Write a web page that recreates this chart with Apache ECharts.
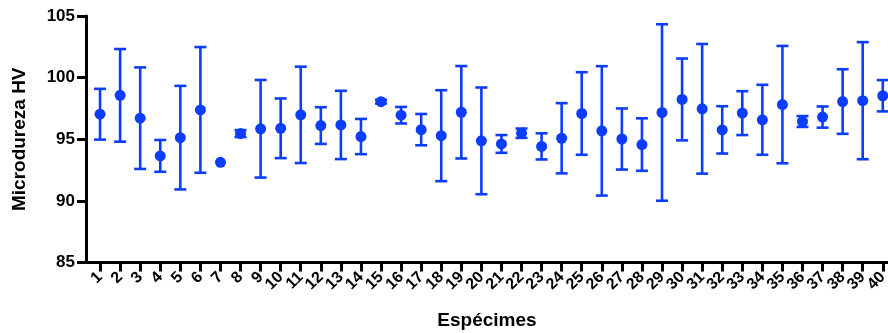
<!DOCTYPE html>
<html>
<head>
<meta charset="utf-8">
<script src="https://cdn.jsdelivr.net/npm/echarts@6/dist/echarts.min.js"></script>
<style>
  html, body { margin: 0; padding: 0; background: #fff; }
  #chart { width: 888px; height: 333px; }
</style>
</head>
<body>
<div id="chart"></div>
<script>
// Specimen numbers on the x axis
const specimens = [1,2,3,4,5,6,7,8,9,10,11,12,13,14,15,16,17,18,19,20,
                   21,22,23,24,25,26,27,28,29,30,31,32,33,34,35,36,37,38,39,40];

// Mean Vickers microhardness per specimen (HV)
const meanHV = [97.03, 98.56, 96.71, 93.65, 95.13, 97.38, 93.13, 95.46, 95.85, 95.89,
                96.98, 96.11, 96.16, 95.22, 98.05, 96.95, 95.78, 95.29, 97.19, 94.87,
                94.62, 95.49, 94.42, 95.08, 97.09, 95.68, 95.02, 94.57, 97.17, 98.23,
                97.47, 95.76, 97.12, 96.58, 97.81, 96.44, 96.80, 98.06, 98.13, 98.53];

// Standard deviation per specimen (HV)
const sdHV = [2.06, 3.76, 4.12, 1.29, 4.20, 5.10, 0.00, 0.28, 3.96, 2.42,
              3.91, 1.49, 2.77, 1.43, 0.15, 0.67, 1.27, 3.69, 3.75, 4.33,
              0.72, 0.38, 1.06, 2.85, 3.35, 5.25, 2.48, 2.13, 7.16, 3.32,
              5.26, 1.92, 1.78, 2.84, 4.76, 0.44, 0.86, 2.62, 4.75, 1.27];

// Y axis ticks
const yTicks = [85, 90, 95, 100, 105];

const BLUE = '#0d3dfc';
const FONT = 'Arial, "Liberation Sans", Helvetica, sans-serif';

// x extent of the plot, in specimen units
const X_MIN = 0.3;
const X_MAX = 40.26;
const PLOT_LEFT = 86;
const PLOT_W = 888 - PLOT_LEFT;
const unit = PLOT_W / (X_MAX - X_MIN);
// band grid used only for the specimen labels: one band per specimen, centred on it
const bandLeft = PLOT_LEFT + (0.5 - X_MIN) * unit;
const bandRight = 888 - (bandLeft + specimens.length * unit);

const pointData = specimens.map((s, i) => [s, meanHV[i]]);
const barData = specimens.map((s, i) => [s, meanHV[i] - sdHV[i], meanHV[i] + sdHV[i], sdHV[i]]);

const chart = echarts.init(document.getElementById('chart'), null, { renderer: 'canvas' });

chart.setOption({
  animation: false,
  backgroundColor: '#ffffff',
  grid: [
    { left: PLOT_LEFT, right: 0, top: 16, bottom: 70.5, containLabel: false, outerBoundsMode: 'none' },
    { left: bandLeft, right: bandRight, top: 16, bottom: 70.5, containLabel: false, outerBoundsMode: 'none' }
  ],
  xAxis: [
    {
      type: 'value',
      gridIndex: 0,
      min: X_MIN,
      max: X_MAX,
      name: 'Espécimes',
      nameLocation: 'middle',
      nameGap: 49,
      nameTextStyle: { fontFamily: FONT, fontWeight: 'bold', fontSize: 19, color: '#000' },
      splitLine: { show: false },
      axisLine: { show: true, lineStyle: { color: '#000', width: 3 } },
      axisTick: { show: true, customValues: specimens, length: 9, lineStyle: { color: '#000', width: 3 } },
      axisLabel: { show: false }
    },
    {
      type: 'category',
      gridIndex: 1,
      data: specimens.map(String),
      boundaryGap: true,
      axisLine: { show: false },
      axisTick: { show: false },
      splitLine: { show: false },
      axisLabel: {
        interval: 0,
        rotate: 45,
        margin: 12,
        fontFamily: FONT,
        fontWeight: 'bold',
        fontSize: 16,
        color: '#000'
      }
    }
  ],
  yAxis: [
    {
      type: 'value',
      gridIndex: 0,
      min: yTicks[0],
      max: yTicks[yTicks.length - 1],
      interval: 5,
      name: 'Microdureza HV',
      nameLocation: 'middle',
      nameGap: 57,
      nameTextStyle: { fontFamily: FONT, fontWeight: 'bold', fontSize: 19, color: '#000' },
      splitLine: { show: false },
      axisLine: { show: true, lineStyle: { color: '#000', width: 3 } },
      axisTick: { show: true, length: 9, lineStyle: { color: '#000', width: 3 } },
      axisLabel: {
        margin: 11,
        fontFamily: FONT,
        fontWeight: 'bold',
        fontSize: 17,
        color: '#000'
      }
    },
    {
      type: 'value',
      gridIndex: 1,
      show: false
    }
  ],
  series: [
    {
      // mean ± SD whiskers with caps
      type: 'custom',
      xAxisIndex: 0,
      yAxisIndex: 0,
      data: barData,
      encode: { x: 0, y: [1, 2] },
      z: 2,
      renderItem: function (params, api) {
        if (api.value(3) === 0) return null;
        const x = api.value(0);
        const lo = api.coord([x, api.value(1)]);
        const hi = api.coord([x, api.value(2)]);
        const half = 6;
        const style = { stroke: BLUE, lineWidth: 2.6, fill: null };
        return {
          type: 'group',
          children: [
            { type: 'line', shape: { x1: lo[0], y1: lo[1], x2: hi[0], y2: hi[1] }, style: style },
            { type: 'line', shape: { x1: lo[0] - half, y1: lo[1], x2: lo[0] + half, y2: lo[1] }, style: style },
            { type: 'line', shape: { x1: hi[0] - half, y1: hi[1], x2: hi[0] + half, y2: hi[1] }, style: style }
          ]
        };
      }
    },
    {
      // mean markers
      type: 'scatter',
      xAxisIndex: 0,
      yAxisIndex: 0,
      data: pointData,
      symbol: 'circle',
      symbolSize: 11,
      itemStyle: { color: BLUE, opacity: 1 },
      z: 3
    }
  ]
});
</script>
</body>
</html>
